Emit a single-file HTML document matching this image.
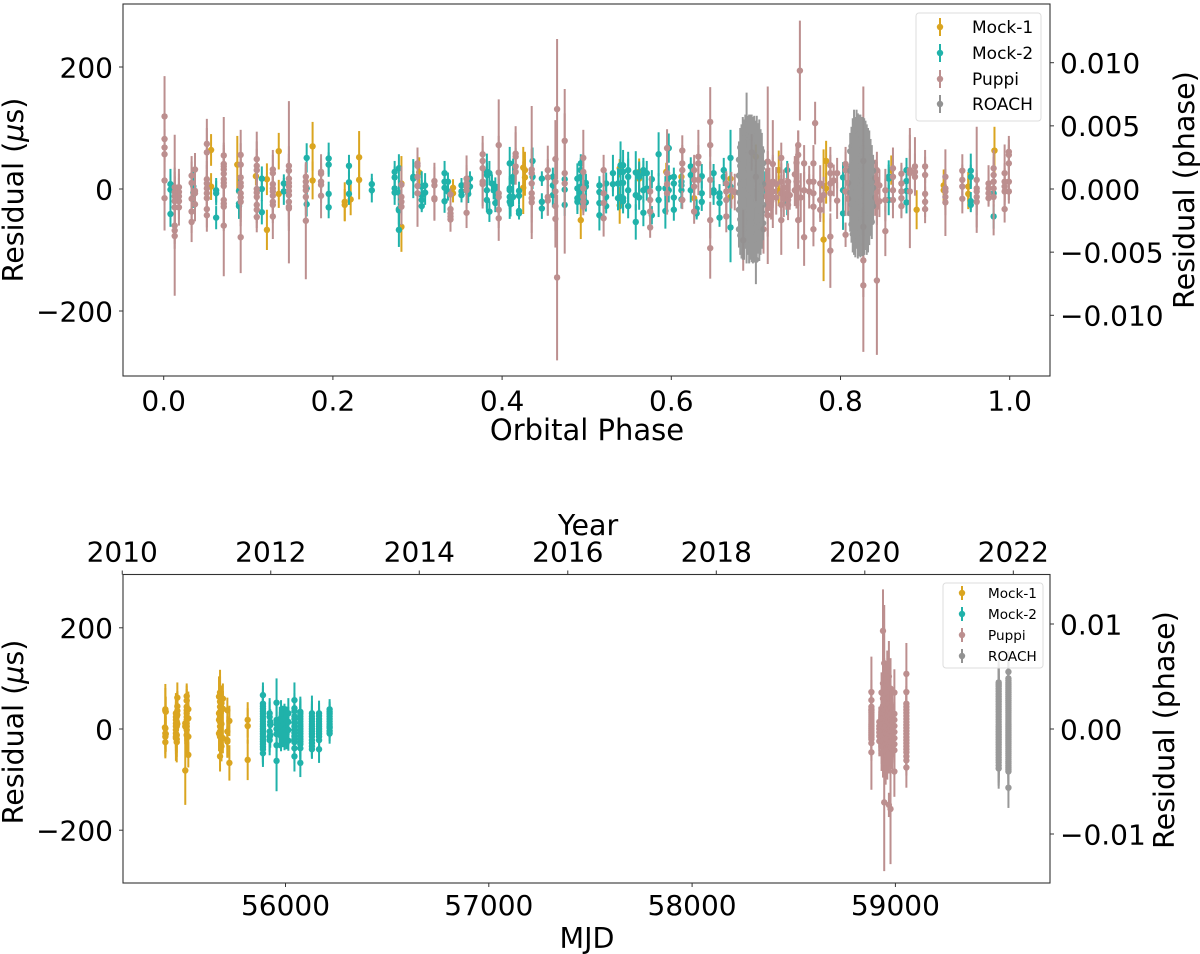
<!DOCTYPE html>
<html lang="en">
<head>
<meta charset="utf-8">
<title>Timing residuals</title>
<style>
html,body{margin:0;padding:0;background:#fff;}
svg{display:block;}
text{font-family:"DejaVu Sans","Liberation Sans",sans-serif;fill:#000;}
</style>
</head>
<body>
<svg id="chart" xmlns="http://www.w3.org/2000/svg" width="1200" height="954" viewBox="0 0 1200 954"></svg>
<script>
// Each record: [x value, residual in microseconds, error in microseconds]
const phaseTicks = [0.0, 0.2, 0.4, 0.6, 0.8, 1.0];
const phaseTickLabels = ['0.0', '0.2', '0.4', '0.6', '0.8', '1.0'];
const residualTicks = [200, 0, -200];
const residualTickLabels = ['200', '0', '\u2212200'];
const topPhaseResidualTicks = [0.010, 0.005, 0, -0.005, -0.010];
const topPhaseResidualLabels = ['0.010', '0.005', '0.000', '\u22120.005', '\u22120.010'];
const mjdTicks = [56000, 57000, 58000, 59000];
const mjdTickLabels = ['56000', '57000', '58000', '59000'];
const yearTicks = [2010, 2012, 2014, 2016, 2018, 2020, 2022];
const yearTickLabels = ['2010', '2012', '2014', '2016', '2018', '2020', '2022'];
const bottomPhaseResidualTicks = [0.01, 0, -0.01];
const bottomPhaseResidualLabels = ['0.01', '0.00', '\u22120.01'];
const seriesNames = ['Mock-1', 'Mock-2', 'Puppi', 'ROACH'];

const topMock1 = [[.056,64,26],[.056,4,22],[.087,40,47],[.109,21,15],[.122,16,26],[.122,-67,33],[.136,62,30],[.136,-8,23],[.176,70,40],[.176,14,31],[.214,-21,32],[.214,-26,26],[.221,-17,26],[.231,52,43],[.231,15,32],[.281,9,45],[.281,-62,41],[.302,27,25],[.342,2,14],[.342,-7,15],[.425,35,34],[.425,2,43],[.427,31,30],[.427,19,30],[.493,-51,31],[.539,-27,30],[.539,34,15],[.562,28,22],[.562,17,25],[.594,28,15],[.612,20,15],[.627,-15,20],[.67,17,25],[.67,-13,25],[.7,53,20],[.727,31,32],[.727,-3,25],[.78,-83,68],[.78,5,60],[.783,46,33],[.783,1,25],[.86,31,24],[.89,-34,32],[.922,6,26],[.922,-2,22],[.951,4,24],[.951,-8,25],[.982,63,39]];

const topMock2 = [[.008,8,25],[.008,-1,25],[.008,-41,21],[.035,4,25],[.035,-6,25],[.062,-2,20],[.062,-7,20],[.062,-47,19],[.089,-3,25],[.089,-24,25],[.089,-28,15],[.116,17,20],[.116,0,20],[.116,-38,20],[.142,9,15],[.142,-4,22],[.169,51,24],[.169,-25,20],[.169,1,20],[.195,50,26],[.195,40,20],[.195,-8,20],[.195,-30,18],[.219,38,18],[.219,11,18],[.219,-8,18],[.246,8,17],[.246,-2,20],[.273,28,18],[.273,19,18],[.273,1,18],[.273,-6,20],[.278,34,23],[.278,-6,20],[.278,-33,25],[.278,-35,25],[.278,-67,28],[.295,17,32],[.295,20,10],[.305,4,25],[.305,-10,25],[.305,-18,15],[.305,-28,10],[.309,6,20],[.309,-6,20],[.332,26,20],[.332,12,20],[.332,2,20],[.332,-20,19],[.336,12,15],[.336,-4,15],[.352,6,12],[.352,-4,12],[.352,-10,12],[.362,17,12],[.362,4,12],[.358,-2,12],[.36,-8,15],[.382,28,30],[.382,23,20],[.382,-2,30],[.382,-18,20],[.385,26,20],[.385,-37,17],[.388,9,15],[.392,4,15],[.39,-2,15],[.394,-7,15],[.392,-23,15],[.409,42,27],[.409,1,20],[.409,-2,20],[.409,-13,20],[.409,-21,28],[.41,-25,20],[.413,20,30],[.413,12,25],[.413,-13,15],[.42,-3,15],[.42,-11,15],[.42,-36,10],[.42,-40,10],[.436,46,22],[.436,20,20],[.447,17,12],[.447,-21,14],[.447,-32,17],[.46,6,20],[.46,-10,20],[.46,20,15],[.474,16,15],[.474,-1,18],[.474,-26,18],[.489,17,25],[.489,1,20],[.489,-15,20],[.489,-21,20],[.493,42,15],[.493,31,20],[.493,20,20],[.493,4,20],[.493,-7,20],[.499,10,15],[.499,4,20],[.499,-22,15],[.515,6,15],[.515,-5,18],[.515,-23,18],[.515,-43,25],[.523,9,18],[.523,-13,18],[.523,-28,12],[.531,26,30],[.531,8,20],[.537,9,25],[.537,-15,20],[.54,39,39],[.54,28,25],[.54,-13,20],[.543,39,25],[.543,28,20],[.543,10,20],[.543,-15,20],[.543,-20,20],[.549,31,30],[.549,20,30],[.549,-2,30],[.549,-28,20],[.558,27,35],[.558,-10,25],[.558,-54,29],[.562,20,25],[.562,-14,20],[.567,31,20],[.567,26,20],[.567,-2,20],[.567,-39,22],[.571,26,20],[.571,1,20],[.577,16,15],[.577,-43,15],[.585,57,36],[.585,1,25],[.585,-18,28],[.593,1,20],[.593,-36,29],[.597,67,24],[.597,19,20],[.597,-2,20],[.603,20,15],[.603,9,15],[.603,-14,20],[.603,-34,18],[.612,12,20],[.612,6,15],[.612,-2,15],[.612,-17,15],[.623,37,15],[.623,23,15],[.623,-2,20],[.63,-32,15],[.63,-40,10],[.636,21,20],[.636,-7,20],[.636,-21,15],[.65,26,15],[.65,-2,15],[.65,-6,20],[.657,-7,15],[.657,-13,15],[.657,-23,15],[.657,-47,15],[.662,31,20],[.662,20,15],[.67,51,46],[.67,4,30],[.67,-63,57],[.711,9,20],[.737,31,15],[.737,-23,20],[.803,19,25],[.803,-2,25],[.803,-40,27],[.857,20,20],[.857,17,30],[.857,-18,25],[.878,31,20],[.878,13,20],[.878,-3,20],[.878,-22,18],[.954,30,28],[.954,20,20],[.954,-20,15],[.954,-26,12],[.981,-7,15],[.981,-45,20]];

const topPuppi = [[.001,119,66],[.001,82,38],[.001,68,30],[.001,57,30],[.001,14,40],[.001,-15,53],[.013,3,86],[.013,-5,40],[.013,-12,40],[.013,-20,40],[.013,-30,40],[.013,-60,30],[.013,-68,30],[.013,-77,98],[.018,3,30],[.018,-5,30],[.018,-12,30],[.018,-20,30],[.018,-30,30],[.033,22,32],[.033,10,35],[.033,-16,35],[.033,-37,35],[.033,-54,33],[.037,32,27],[.037,-3,30],[.037,-7,30],[.037,-25,28],[.051,74,41],[.051,60,40],[.051,16,30],[.051,9,30],[.051,1,30],[.051,-7,30],[.051,-15,30],[.051,-33,30],[.051,-43,27],[.071,55,63],[.071,41,35],[.071,37,35],[.071,32,35],[.071,25,35],[.071,16,35],[.071,10,35],[.071,5,35],[.071,-18,40],[.071,-24,40],[.071,-29,40],[.071,-60,83],[.091,56,41],[.091,40,35],[.091,19,40],[.091,10,40],[.091,4,40],[.091,-7,40],[.091,-14,40],[.091,-21,40],[.091,-79,59],[.11,49,45],[.11,38,40],[.11,31,35],[.11,0,35],[.11,-6,35],[.11,-13,35],[.11,-26,30],[.11,-34,30],[.11,-46,25],[.129,32,32],[.129,26,30],[.129,8,30],[.129,1,30],[.129,-4,30],[.129,-11,30],[.129,-21,30],[.129,-26,30],[.129,-45,37],[.148,38,106],[.148,30,40],[.148,17,40],[.148,10,40],[.148,4,40],[.148,-3,40],[.148,-10,40],[.148,-21,40],[.148,-29,40],[.148,-32,90],[.168,20,20],[.168,12,30],[.168,4,30],[.168,-2,30],[.168,-13,30],[.168,-52,96],[.186,28,29],[.186,25,25],[.186,12,30],[.186,7,30],[.186,-11,37],[.281,7,30],[.281,-13,30],[.281,-21,30],[.281,-29,30],[.3,42,25],[.3,38,30],[.3,20,40],[.3,5,40],[.3,-7,55],[.32,13,30],[.32,6,30],[.32,-15,35],[.32,-17,35],[.339,-9,10],[.339,-33,15],[.339,-40,15],[.339,-45,15],[.339,-50,20],[.358,17,38],[.358,9,30],[.358,4,30],[.358,-2,30],[.358,-39,25],[.377,57,30],[.377,46,30],[.377,34,30],[.377,12,40],[.377,8,40],[.396,72,75],[.396,27,60],[.396,-7,30],[.396,-13,30],[.396,-34,30],[.396,-48,37],[.416,58,45],[.416,53,40],[.416,37,30],[.416,28,20],[.435,32,104],[.435,26,40],[.435,9,40],[.435,-7,40],[.435,-15,40],[.435,-22,60],[.454,31,40],[.454,19,30],[.454,-13,30],[.454,-19,25],[.463,49,64],[.463,12,40],[.463,-4,40],[.463,-28,40],[.463,-49,47],[.465,131,115],[.465,-145,136],[.474,79,85],[.474,26,50],[.474,9,115],[.496,51,46],[.496,28,30],[.496,1,30],[.496,-13,30],[.496,-21,15],[.496,-29,10],[.52,31,25],[.52,-7,30],[.52,-23,30],[.52,-48,30],[.575,-4,25],[.575,-18,25],[.575,-37,25],[.575,-63,17],[.595,67,31],[.595,8,35],[.595,-7,35],[.595,26,30],[.613,63,25],[.613,42,30],[.613,31,30],[.613,-18,15],[.627,31,25],[.627,15,30],[.627,4,30],[.627,-37,20],[.632,53,44],[.632,42,30],[.632,15,25],[.646,110,57],[.646,72,40],[.646,15,30],[.646,-51,30],[.646,-97,50],[.665,9,20],[.665,-4,30],[.665,-18,30],[.665,-45,26],[.671,-2,30],[.675,-5,30],[.685,-84,50],[.695,60,30],[.7,20,40],[.709,-66,40],[.712,4,30],[.712,-12,28],[.714,45,123],[.714,12,50],[.714,-43,80],[.716,10,25],[.716,-6,30],[.718,-20,30],[.72,41,72],[.72,12,40],[.72,-4,60],[.724,8,28],[.724,-14,28],[.73,51,25],[.73,12,30],[.73,-7,30],[.73,-26,30],[.73,-51,57],[.733,2,30],[.733,-16,30],[.736,-8,26],[.738,12,30],[.738,-18,25],[.738,-26,25],[.74,-10,24],[.746,-2,26],[.746,24,30],[.748,43,30],[.748,12,30],[.748,-2,30],[.75,72,24],[.75,56,40],[.75,2,30],[.75,-51,47],[.752,194,82],[.753,-14,40],[.757,42,30],[.757,-2,30],[.757,-79,47],[.763,-4,28],[.763,12,26],[.768,42,30],[.768,12,30],[.768,-7,30],[.768,-29,30],[.768,-66,28],[.77,108,35],[.776,9,30],[.776,-18,30],[.776,-34,20],[.78,-10,30],[.788,39,30],[.788,26,30],[.788,9,30],[.788,-7,30],[.788,-78,30],[.788,-101,61],[.792,14,26],[.796,26,25],[.796,-19,30],[.806,41,28],[.806,31,30],[.806,-4,40],[.806,-75,20],[.809,10,28],[.809,-16,28],[.827,46,122],[.827,-62,30],[.827,-117,60],[.827,-158,109],[.841,18,30],[.841,-14,30],[.843,31,30],[.843,15,30],[.843,-4,30],[.843,-29,30],[.843,-150,122],[.846,6,26],[.846,-20,26],[.853,-2,35],[.853,-18,35],[.853,-69,41],[.862,34,34],[.862,20,30],[.862,-2,30],[.862,-18,30],[.872,25,18],[.872,9,30],[.872,-4,30],[.872,-15,30],[.872,-28,20],[.882,31,69],[.882,26,40],[.882,-4,93],[.888,37,48],[.888,28,30],[.888,20,25],[.9,37,27],[.9,23,30],[.9,-8,30],[.9,-21,25],[.9,-33,23],[.924,20,45],[.924,1,30],[.924,-4,30],[.924,-13,30],[.924,-22,55],[.944,30,27],[.944,15,25],[.944,4,25],[.944,-16,24],[.961,15,87],[.961,1,30],[.961,-4,30],[.961,-13,30],[.961,-21,42],[.975,9,30],[.975,1,30],[.975,-7,20],[.975,-15,10],[.981,34,30],[.981,23,30],[.981,12,30],[.981,1,30],[.981,-13,63],[.994,26,47],[.994,12,30],[.994,4,30],[.994,-4,30],[.994,-33,22],[.999,61,26],[.999,56,25],[.999,42,30],[.999,12,30],[.999,-4,20]];

const topRoach = [[.680,48,30],[.680,22,32],[.680,-6,30],[.680,-34,32],[.680,-66,30],[.6815,68,32],[.6815,38,30],[.6815,8,30],[.6815,-22,32],[.6815,-50,30],[.6815,-76,32],[.683,74,32],[.683,50,30],[.683,18,32],[.683,-14,30],[.683,-42,32],[.683,-80,34],[.6845,82,36],[.6845,56,30],[.6845,26,30],[.6845,-4,32],[.6845,-36,30],[.6845,-62,30],[.6845,-84,32],[.686,80,34],[.686,44,30],[.686,12,32],[.686,-20,30],[.686,-54,32],[.686,-82,34],[.6875,86,36],[.6875,60,30],[.6875,30,30],[.6875,0,30],[.6875,-30,32],[.6875,-66,32],[.689,105,53],[.689,70,34],[.689,40,30],[.689,10,30],[.689,-26,30],[.689,-58,34],[.689,-86,36],[.6905,84,36],[.6905,54,32],[.6905,22,30],[.6905,-10,30],[.6905,-44,32],[.6905,-74,34],[.692,88,34],[.692,64,32],[.692,34,30],[.692,2,30],[.692,-32,30],[.692,-62,34],[.692,-88,34],[.6935,86,36],[.6935,48,30],[.6935,16,30],[.6935,-16,30],[.6935,-50,34],[.6935,-84,32],[.695,90,32],[.695,60,32],[.695,28,30],[.695,-6,30],[.695,-40,30],[.695,-72,34],[.695,-90,30],[.6965,84,34],[.6965,42,30],[.6965,10,30],[.6965,-22,30],[.6965,-58,32],[.6965,-86,36],[.698,88,32],[.698,58,30],[.698,24,30],[.698,-12,30],[.698,-46,30],[.698,-80,34],[.6995,82,30],[.6995,40,32],[.6995,6,30],[.6995,-28,30],[.6995,-64,32],[.700,-116,40],[.701,86,34],[.701,54,30],[.701,18,30],[.701,-18,32],[.701,-52,30],[.701,-84,36],[.7025,76,32],[.7025,36,30],[.7025,2,30],[.7025,-34,30],[.7025,-72,34],[.704,80,34],[.704,48,30],[.704,14,30],[.704,-24,32],[.704,-60,30],[.704,-88,30],[.7055,66,32],[.7055,28,30],[.7055,-8,30],[.7055,-44,32],[.7055,-78,30],[.707,62,30],[.707,34,30],[.707,-2,30],[.707,-38,30],[.707,-68,30],[.7085,42,28],[.7085,8,30],[.7085,-26,30],[.7085,-56,28]];
const topRoachB = [[.8115,62,30],[.8115,30,30],[.8115,-6,28],[.8115,-40,30],[.813,70,32],[.813,38,30],[.813,6,30],[.813,-26,30],[.813,-58,30],[.8145,80,36],[.8145,48,30],[.8145,16,30],[.8145,-16,30],[.8145,-50,30],[.8145,-74,30],[.816,92,38],[.816,60,30],[.816,26,30],[.816,-8,30],[.816,-42,30],[.816,-76,32],[.8175,84,34],[.8175,50,32],[.8175,18,30],[.8175,-18,30],[.8175,-52,32],[.8175,-82,30],[.819,94,36],[.819,64,30],[.819,32,30],[.819,-2,30],[.819,-36,30],[.819,-68,30],[.8205,88,36],[.8205,44,30],[.8205,12,30],[.8205,-24,30],[.8205,-58,30],[.8205,-84,30],[.822,90,32],[.822,58,30],[.822,24,30],[.822,-12,30],[.822,-46,30],[.822,-78,32],[.8235,92,30],[.8235,38,30],[.8235,4,30],[.8235,-30,30],[.8235,-66,30],[.8235,-88,24],[.825,86,32],[.825,54,30],[.825,20,30],[.825,-16,30],[.825,-50,30],[.825,-80,30],[.8265,88,30],[.8265,42,30],[.8265,8,30],[.8265,-26,30],[.8265,-62,30],[.8265,-84,26],[.828,82,34],[.828,50,30],[.828,16,30],[.828,-20,30],[.828,-54,30],[.828,-78,30],[.8295,78,34],[.8295,36,30],[.8295,2,30],[.8295,-34,30],[.8295,-70,30],[.831,74,32],[.831,44,30],[.831,10,30],[.831,-24,30],[.831,-58,30],[.831,-80,28],[.8325,70,30],[.8325,30,30],[.8325,-6,30],[.8325,-42,30],[.8325,-74,30],[.834,66,30],[.834,36,30],[.834,4,30],[.834,-30,30],[.834,-64,28],[.8355,52,30],[.8355,22,30],[.8355,-12,30],[.8355,-46,28],[.837,44,28],[.837,12,28],[.837,-22,28],[.837,-54,28],[.8385,30,26],[.8385,2,26],[.8385,-28,26]];

const bottomMock1 = [[55409,39,50],[55409,36,45],[55409,1,40],[55409,-9,40],[55409,-15,40],[55409,-26,32],[55407,3,35],[55411,-10,35],[55411,34,30],[55461,31,40],[55461,24,35],[55461,18,35],[55461,11,35],[55461,5,35],[55461,-2,35],[55461,-9,35],[55461,-15,35],[55461,-18,45],[55465,24,35],[55465,15,35],[55465,5,35],[55465,-12,35],[55465,-20,35],[55465,-26,40],[55468,62,30],[55468,45,30],[55468,36,35],[55468,28,45],[55468,10,35],[55507,-82,68],[55507,11,35],[55507,5,35],[55514,65,25],[55514,56,30],[55514,44,35],[55514,37,35],[55514,31,35],[55514,24,35],[55514,18,35],[55514,11,35],[55514,5,35],[55514,-2,35],[55514,-12,35],[55522,39,35],[55522,21,35],[55522,-15,35],[55522,-51,25],[55673,64,40],[55673,31,35],[55673,18,35],[55673,-9,35],[55678,72,45],[55678,64,40],[55678,54,40],[55678,44,40],[55678,34,40],[55678,24,40],[55678,14,40],[55678,5,35],[55678,-5,35],[55678,-15,35],[55678,-54,30],[55685,51,35],[55685,38,35],[55685,10,35],[55685,-34,30],[55692,60,30],[55692,40,35],[55692,-18,30],[55714,37,25],[55714,-5,30],[55714,-22,35],[55714,-25,30],[55724,16,30],[55724,-67,35],[55814,18,35],[55814,6,35],[55814,-61,40]];

const bottomMock2 = [[55889,67,25],[55889,50,35],[55889,45,35],[55889,40,35],[55889,35,35],[55889,30,35],[55889,25,35],[55889,20,35],[55889,15,35],[55889,10,35],[55889,5,35],[55889,0,35],[55889,-5,35],[55889,-10,35],[55889,-15,35],[55889,-20,35],[55889,-25,35],[55889,-30,35],[55889,-35,35],[55889,-40,35],[55889,-48,20],[55922,31,30],[55922,24,30],[55922,-5,30],[55922,-15,30],[55922,-22,30],[55925,14,25],[55925,8,25],[55925,-12,25],[55956,52,48],[55956,18,35],[55956,10,35],[55956,0,35],[55956,-10,35],[55956,-32,35],[55956,-63,60],[55972,14,30],[55972,4,30],[55972,-8,30],[55978,22,35],[55978,12,30],[55978,3,30],[55978,-6,30],[55978,-14,30],[55986,16,30],[55986,6,30],[55986,-6,30],[55995,20,30],[55995,10,30],[55995,0,30],[55995,-12,30],[56000,20,25],[56000,10,25],[56000,1,25],[56000,-8,25],[56005,14,30],[56005,2,30],[56005,-10,30],[56014,31,30],[56014,14,30],[56014,-2,30],[56014,-23,20],[56044,57,35],[56044,41,30],[56044,35,30],[56044,25,35],[56044,20,35],[56044,12,35],[56044,5,35],[56044,-2,35],[56044,-8,35],[56044,-14,35],[56044,-20,35],[56044,-26,35],[56044,-38,30],[56044,-54,30],[56073,34,30],[56073,30,30],[56073,25,30],[56073,20,30],[56073,15,30],[56073,10,30],[56073,5,30],[56073,0,30],[56073,-5,30],[56073,-10,30],[56073,-15,30],[56073,-20,30],[56073,-25,30],[56073,-30,30],[56073,-38,25],[56073,-67,28],[56130,31,35],[56130,25,30],[56130,20,30],[56130,15,30],[56130,10,30],[56130,5,30],[56130,0,30],[56130,-5,30],[56130,-10,30],[56130,-15,30],[56130,-22,30],[56130,-28,30],[56130,-34,25],[56130,-40,15],[56165,31,25],[56165,26,25],[56165,20,25],[56165,15,25],[56165,10,25],[56165,5,25],[56165,0,25],[56165,-5,25],[56165,-10,25],[56165,-15,25],[56165,-22,25],[56165,-40,27],[56217,39,20],[56217,34,20],[56217,30,20],[56217,25,20],[56217,20,20],[56217,15,20],[56217,10,20],[56217,5,20],[56217,2,20],[56217,-4,20],[56217,-9,20]];

const bottomPuppi = [[58882,73,70],[58882,57,40],[58882,44,35],[58882,39,35],[58882,36,35],[58882,32,35],[58882,28,35],[58882,24,35],[58882,20,35],[58882,16,35],[58882,12,35],[58882,8,35],[58882,4,35],[58882,0,35],[58882,-4,35],[58882,-8,35],[58882,-12,35],[58882,-16,35],[58882,-20,35],[58882,-28,35],[58882,-46,74],[58921,14,30],[58921,6,30],[58921,0,30],[58921,-7,30],[58921,-14,30],[58921,-24,30],[58932,72,40],[58932,40,35],[58932,32,35],[58932,24,35],[58932,16,35],[58932,8,35],[58932,0,35],[58932,-8,35],[58932,-16,35],[58932,-24,35],[58932,-34,35],[58932,-48,35],[58939,194,82],[58939,90,50],[58939,60,40],[58939,46,40],[58939,34,40],[58939,22,40],[58939,10,40],[58939,-2,40],[58939,-14,40],[58939,-24,40],[58939,-36,60],[58945,130,115],[58945,80,60],[58945,64,40],[58945,52,40],[58945,38,40],[58945,26,40],[58945,14,40],[58945,2,40],[58945,-10,40],[58945,-22,40],[58945,-34,40],[58945,-145,136],[58952,66,60],[58952,50,40],[58952,38,40],[58952,26,40],[58952,16,40],[58952,5,40],[58952,-6,40],[58952,-18,40],[58952,-30,40],[58952,-44,40],[58952,-66,44],[58960,120,35],[58960,48,40],[58960,36,40],[58960,26,40],[58960,14,40],[58960,4,40],[58960,-8,40],[58960,-18,40],[58960,-30,40],[58960,-44,40],[58960,-60,40],[58968,104,70],[58968,62,40],[58968,48,40],[58968,36,40],[58968,24,40],[58968,12,40],[58968,0,40],[58968,-10,40],[58968,-22,40],[58968,-34,40],[58968,-48,40],[58968,-150,24],[58976,80,60],[58976,42,35],[58976,30,35],[58976,18,35],[58976,8,35],[58976,-3,35],[58976,-14,35],[58976,-25,35],[58976,-36,35],[58976,-158,109],[58984,44,30],[58984,30,30],[58984,18,35],[58984,8,35],[58984,-4,35],[58984,-15,35],[58984,-26,35],[58984,-38,30],[58984,-50,30],[58995,72,46],[58995,30,35],[58995,18,35],[58995,6,35],[58995,-6,35],[58995,-18,35],[58995,-30,35],[58995,-42,35],[58995,-84,50],[59054,109,61],[59054,73,40],[59054,50,35],[59054,44,35],[59054,38,35],[59054,32,35],[59054,26,35],[59054,20,35],[59054,14,35],[59054,8,35],[59054,2,35],[59054,-4,35],[59054,-10,35],[59054,-16,35],[59054,-22,35],[59054,-28,35],[59054,-34,35],[59054,-40,35],[59054,-46,35],[59054,-54,30],[59054,-62,30],[59054,-76,40]];

const bottomRoach = [[59508,92,45],[59508,88,40],[59508,84,40],[59508,79,40],[59508,74,40],[59508,69,40],[59508,64,40],[59508,59,40],[59508,54,40],[59508,49,40],[59508,44,40],[59508,39,40],[59508,34,40],[59508,29,40],[59508,24,40],[59508,19,40],[59508,14,40],[59508,9,40],[59508,4,40],[59508,-1,40],[59508,-6,40],[59508,-11,40],[59508,-16,40],[59508,-21,40],[59508,-26,40],[59508,-31,40],[59508,-36,40],[59508,-41,40],[59508,-46,40],[59508,-51,40],[59508,-56,40],[59508,-61,40],[59508,-66,40],[59508,-72,40],[59508,-78,40],[59556,113,40],[59556,100,40],[59556,96,40],[59556,92,40],[59556,88,40],[59556,84,40],[59556,80,40],[59556,76,40],[59556,72,40],[59556,68,40],[59556,64,40],[59556,60,40],[59556,56,40],[59556,52,40],[59556,48,40],[59556,44,40],[59556,40,40],[59556,36,40],[59556,32,40],[59556,28,40],[59556,24,40],[59556,20,40],[59556,16,40],[59556,12,40],[59556,8,40],[59556,4,40],[59556,0,40],[59556,-4,40],[59556,-8,40],[59556,-12,40],[59556,-16,40],[59556,-20,40],[59556,-24,40],[59556,-28,40],[59556,-32,40],[59556,-36,40],[59556,-40,40],[59556,-44,40],[59556,-48,40],[59556,-52,40],[59556,-56,40],[59556,-60,40],[59556,-64,40],[59556,-68,40],[59556,-72,40],[59556,-76,40],[59556,-80,40],[59556,-84,40],[59556,-116,40]];

const svg = document.getElementById('chart');
const NS = 'http://www.w3.org/2000/svg';
const colors = ['#daa520', '#20b2aa', '#bc8f8f', '#929292'];
const opacities = [1, 1, 1, 0.94];
const seriesKeys = ['mock-1', 'mock-2', 'puppi', 'roach'];

function make(tag, attrs, parent) {
  const el = document.createElementNS(NS, tag);
  for (const k in attrs) el.setAttribute(k, attrs[k]);
  (parent || svg).appendChild(el);
  return el;
}

// Axis scales
const xPhase = v => 163.7 + v * 846;
const yTop = v => 189 - v * 0.61;
const yTopPhase = v => 189 - v * 12630;
const xMjd = v => 285.5 + (v - 56000) * 0.2033;
const xYear = v => xMjd(55197 + (v - 2010) * 365.25);
const yBottom = v => 729 - v * 0.506;
const yBottomPhase = v => 729 - v * 10500;

function drawSeries(parent, rows, xScale, yScale, idx, panel) {
  const g = make('g', {opacity: opacities[idx]}, parent);
  
  
  rows.forEach(r => {
    const x = xScale(r[0]);
    const bar = make('line', {x1: x, x2: x, y1: yScale(r[1] - r[2]), y2: yScale(r[1] + r[2]), stroke: colors[idx], 'stroke-width': 2}, g);
    
    
    const dot = make('circle', {cx: x, cy: yScale(r[1]), r: 3.2, fill: colors[idx]}, g);
    
    
  });
}

function addLabel(parent, str, x, y, size, anchor, rotate) {
  const attrs = {x: x, y: y, 'font-size': size, 'text-anchor': anchor};
  if (rotate) attrs.transform = 'rotate(-90 ' + x + ' ' + y + ')';
  const t = make('text', attrs, parent);
  t.textContent = str;
  return t;
}

function addTickX(parent, x, y0, dir, label, labelY, name) {
  const l = make('line', {x1: x, x2: x, y1: y0, y2: y0 + dir * 4, stroke: '#333', 'stroke-width': 1}, parent);
  
  
  const t = addLabel(parent, label, x, labelY, 28, 'middle');
  
  
}

function addTickY(parent, y, x0, dir, label, labelX, anchor, name) {
  const l = make('line', {x1: x0, x2: x0 + dir * 4, y1: y, y2: y, stroke: '#333', 'stroke-width': 1}, parent);
  
  
  const t = addLabel(parent, label, labelX, y + 10.3, 28, anchor);
  
  
}

function addMuLabel(parent, x, y) {
  const t = make('text', {x: x, y: y, 'font-size': 28.5, 'text-anchor': 'middle', transform: 'rotate(-90 ' + x + ' ' + y + ')'}, parent);
  
  
  t.appendChild(document.createTextNode('Residual ('));
  const mu = make('tspan', {'font-style': 'italic'}, t);
  mu.textContent = '\u03bc';
  t.appendChild(document.createTextNode('s)'));
}

function addLegend(parent, box, markerX, textX, rowYs, size, barHalf, name) {
  const g = make('g', {}, parent);
  
  
  make('rect', {x: box[0], y: box[1], width: box[2], height: box[3], rx: 3, fill: '#fff', 'fill-opacity': 0.8, stroke: '#ddd', 'stroke-width': 1}, g);
  seriesNames.forEach((n, i) => {
    const e = make('g', {}, g);
    
    
    make('line', {x1: markerX, x2: markerX, y1: rowYs[i] - barHalf, y2: rowYs[i] + barHalf, stroke: colors[i], 'stroke-width': 2}, e);
    make('circle', {cx: markerX, cy: rowYs[i], r: 3.2, fill: colors[i]}, e);
    const t = addLabel(e, n, textX, rowYs[i] + size * 0.36, size, 'start');
    
    
  });
}

function addFrame(parent, x, y, w, h, name) {
  const r = make('rect', {x: x, y: y, width: w, height: h, fill: 'none', stroke: '#333', 'stroke-width': 1.1}, parent);
  
  
}

// ---------- Top panel ----------
const topPanel = make('g', {});


drawSeries(topPanel, topMock1, xPhase, yTop, 0, 'top');
drawSeries(topPanel, topMock2, xPhase, yTop, 1, 'top');
drawSeries(topPanel, topPuppi, xPhase, yTop, 2, 'top');
drawSeries(topPanel, topRoach, xPhase, yTop, 3, 'top');
drawSeries(topPanel, topRoachB, xPhase, yTop, 3, 'top');
addFrame(topPanel, 123, 4, 927, 372, 'top-plot-frame');
phaseTicks.forEach((v, i) => addTickX(topPanel, xPhase(v), 376, 1, phaseTickLabels[i], 410.5, 'phase'));
residualTicks.forEach((v, i) => addTickY(topPanel, yTop(v), 123, -1, residualTickLabels[i], 113, 'end', 'top-residual'));
topPhaseResidualTicks.forEach((v, i) => addTickY(topPanel, yTopPhase(v), 1050, 1, topPhaseResidualLabels[i], 1060, 'start', 'top-phase-residual'));
const xTitleTop = addLabel(topPanel, 'Orbital Phase', 587, 440, 29, 'middle');


addMuLabel(topPanel, 23, 190);
const rightTitleTop = addLabel(topPanel, 'Residual (phase)', 1194, 190, 28.5, 'middle', true);


addLegend(topPanel, [916, 13, 125, 108], 940, 972, [27, 53, 79, 104], 17, 9, 'top-legend');

// ---------- Bottom panel ----------
const bottomPanel = make('g', {});


drawSeries(bottomPanel, bottomMock1, xMjd, yBottom, 0, 'bottom');
drawSeries(bottomPanel, bottomMock2, xMjd, yBottom, 1, 'bottom');
drawSeries(bottomPanel, bottomPuppi, xMjd, yBottom, 2, 'bottom');
drawSeries(bottomPanel, bottomRoach, xMjd, yBottom, 3, 'bottom');
addFrame(bottomPanel, 123, 574.5, 927, 308.5, 'bottom-plot-frame');
mjdTicks.forEach((v, i) => addTickX(bottomPanel, xMjd(v), 883, 1, mjdTickLabels[i], 915, 'mjd'));
yearTicks.forEach((v, i) => addTickX(bottomPanel, xYear(v), 574.5, -1, yearTickLabels[i], 561.5, 'year'));
residualTicks.forEach((v, i) => addTickY(bottomPanel, yBottom(v), 123, -1, residualTickLabels[i], 113, 'end', 'bottom-residual'));
bottomPhaseResidualTicks.forEach((v, i) => addTickY(bottomPanel, yBottomPhase(v), 1050, 1, bottomPhaseResidualLabels[i], 1060, 'start', 'bottom-phase-residual'));
const xTitleBottom = addLabel(bottomPanel, 'MJD', 587, 948, 28.5, 'middle');


const yearTitle = addLabel(bottomPanel, 'Year', 588, 535, 28.5, 'middle');


addMuLabel(bottomPanel, 23, 732);
const rightTitleBottom = addLabel(bottomPanel, 'Residual (phase)', 1174, 730, 28.5, 'middle', true);


addLegend(bottomPanel, [943, 583, 100, 85], 962, 988, [593, 614, 635, 656], 13.6, 7, 'bottom-legend');
</script>
</body>
</html>
